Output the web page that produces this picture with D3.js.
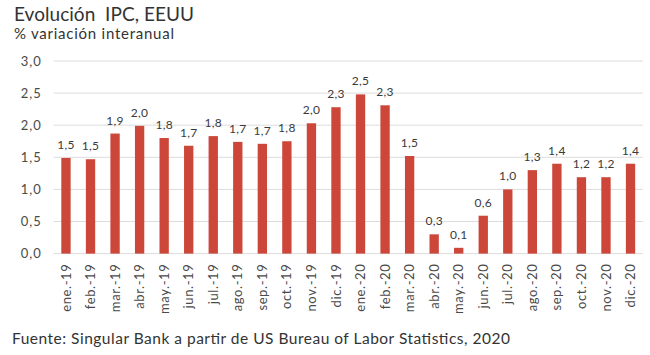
<!DOCTYPE html>
<html><head><meta charset="utf-8">
<script src="https://cdn.jsdelivr.net/npm/d3@7"></script>
<style>
html,body{margin:0;padding:0;background:#fff;}
text{font-family:Lato,"Open Sans",sans-serif;}
</style></head>
<body><svg id="c" width="650" height="355"></svg>
<script>
const categories = ["ene.-19","feb.-19","mar.-19","abr.-19","may.-19","jun.-19","jul.-19","ago.-19","sep.-19","oct.-19","nov.-19","dic.-19","ene.-20","feb.-20","mar.-20","abr.-20","may.-20","jun.-20","jul.-20","ago.-20","sep.-20","oct.-20","nov.-20","dic.-20"];
const values = [1.49,1.47,1.87,1.99,1.80,1.68,1.83,1.74,1.71,1.75,2.03,2.28,2.48,2.31,1.52,0.30,0.09,0.59,1.00,1.30,1.40,1.19,1.19,1.40];
const labels = ["1,5","1,5","1,9","2,0","1,8","1,7","1,8","1,7","1,7","1,8","2,0","2,3","2,5","2,3","1,5","0,3","0,1","0,6","1,0","1,3","1,4","1,2","1,2","1,4"];
const yTicks = [0,0.5,1,1.5,2,2.5,3];
const title = "Evolución IPC, EEUU";
const subtitle = "% variación interanual";
const source = "Fuente: Singular Bank a partir de US Bureau of Labor Statistics, 2020";

const svg = d3.select("#c");
const pL = 53.7, pR = 642.8, pT = 61, pB = 253.6;
const x = d3.scaleBand().domain(categories).range([pL, pR]).paddingInner(0.62).paddingOuter(0.31);
const y = d3.scaleLinear().domain([0,3]).range([pB, pT]);
const fmt = d => d3.format(".1f")(d).replace(".", ",");

// gridlines
svg.append("g").selectAll("line").data(yTicks).join("line")
  .attr("x1", pL).attr("x2", pR)
  .attr("y1", d => y(d)).attr("y2", d => y(d))
  .attr("stroke", "#dcdcdc").attr("stroke-width", 1);

// y axis labels
const yAxis = svg.append("g").attr("transform", `translate(${pL},0)`)
  .call(d3.axisLeft(y).tickValues(yTicks).tickFormat(fmt).tickSize(0).tickPadding(12));
yAxis.select(".domain").remove();
yAxis.selectAll("text").attr("font-size", 13).attr("fill", "#4a4a4a")
  .attr("font-family", "Lato").attr("letter-spacing", 1);

// bars
svg.append("g").selectAll("rect").data(values).join("rect")
  .attr("x", (d,i) => x(categories[i]))
  .attr("width", x.bandwidth())
  .attr("y", d => y(d))
  .attr("height", d => y(0) - y(d))
  .attr("fill", "#cc4739");

// value labels
svg.append("g").selectAll("text").data(values).join("text")
  .attr("x", (d,i) => x(categories[i]) + x.bandwidth()/2)
  .attr("y", d => y(d) - 9)
  .attr("text-anchor", "middle")
  .attr("font-size", 12).attr("fill", "#3a3a3a").attr("letter-spacing", 0.3)
  .text((d,i) => labels[i]);

// x axis labels
const xAxis = svg.append("g").attr("transform", `translate(0,${pB})`)
  .call(d3.axisBottom(x).tickSize(0).tickPadding(0));
xAxis.select(".domain").remove();
xAxis.selectAll("text")
  .attr("font-size", 13).attr("fill", "#4a4a4a").attr("font-family", "Lato")
  .attr("letter-spacing", 0.6)
  .attr("text-anchor", "end")
  .attr("transform", "rotate(-90)")
  .attr("x", -10).attr("y", 0).attr("dy", "0.35em");

// titles
svg.append("text").attr("x", 14).attr("y", 21).attr("font-size", 19).attr("fill", "#333")
  .attr("textLength", 180).attr("lengthAdjust", "spacing")
  .text(title.replace(" IPC", "\u00a0\u00a0IPC"));
svg.append("text").attr("x", 14).attr("y", 38.5).attr("font-size", 15).attr("fill", "#333")
  .attr("textLength", 160).attr("lengthAdjust", "spacing").text(subtitle);
svg.append("text").attr("x", 12).attr("y", 344).attr("font-size", 15.5).attr("fill", "#333")
  .attr("textLength", 498).attr("lengthAdjust", "spacing").text(source);
</script></body></html>
